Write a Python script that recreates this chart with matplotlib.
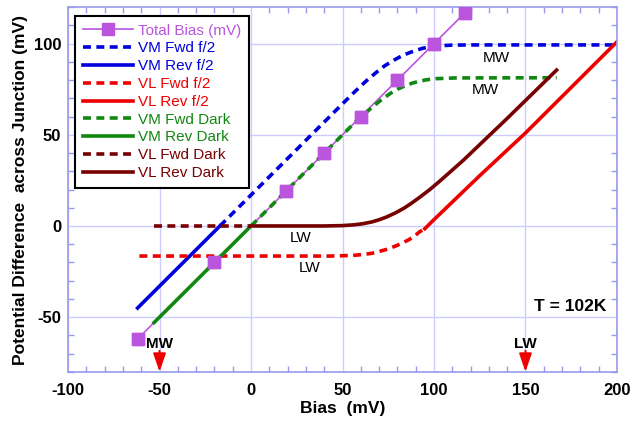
import matplotlib
matplotlib.use("Agg")
import matplotlib.pyplot as plt
from matplotlib.ticker import MultipleLocator

# ---- data ----
total_x = [-62, -20, 19, 40, 60, 80, 100, 117]
total_y = [-62, -20, 19, 40, 60, 80, 100, 117]

vm_fwd_f2_x = [-17, 0, 20, 40, 50, 55, 60, 64, 67, 70, 73, 77, 80, 83, 87, 90, 94, 98, 104, 110, 120, 200]
vm_fwd_f2_y = [0, 17, 37, 57, 67, 72, 76.8, 80.5, 83, 85.5, 87.8, 90.3, 92, 93.6, 95.2, 96.3, 97.5, 98.3, 98.9, 99.2, 99.3, 99.3]
vm_rev_f2_x = [-62, -17]
vm_rev_f2_y = [-45, 0]

vl_fwd_f2_x = [-61, 43, 55, 61, 66, 70, 75, 79, 83, 86.5, 90, 92, 95]
vl_fwd_f2_y = [-16.5, -16.5, -16.2, -15.7, -15, -14, -12.6, -11, -9.2, -7.4, -5, -3.3, -1.5]
vl_rev_f2_x = [95, 99, 125, 150, 200]
vl_rev_f2_y = [-1.5, 2.5, 27.6, 51, 101]

vm_fwd_dk_x = [0, 20, 40, 55, 58, 61, 64, 67, 70, 73, 76, 80, 84, 88, 92, 96, 101, 112, 167]
vm_fwd_dk_y = [0, 20, 40, 55, 57.9, 60.6, 63.2, 65.8, 68.2, 70.5, 72.6, 75.0, 76.8, 78.3, 79.4, 80.2, 80.8, 81.2, 81.3]
vm_rev_dk_x = [-53, 0]
vm_rev_dk_y = [-53, 0]

vl_fwd_dk_x = [-53, 0]
vl_fwd_dk_y = [0, 0]
vl_rev_dk_x = [0, 40, 50, 56, 61, 66, 70, 74, 79, 84, 88, 92, 97.5, 102, 107, 116, 140, 167]
vl_rev_dk_y = [0, 0, 0.2, 0.6, 1.2, 2.2, 3.4, 4.9, 7.2, 10.0, 12.7, 15.6, 19.8, 23.6, 28, 36, 59, 85.5]

arrow_x = [-50, 150]
arrow_labels = ["MW", "LW"]

# ---- style ----
C_MAG = "#bb55dd"
C_BLUE = "#0000dd"
C_RED = "#ee0000"
C_GREEN = "#118811"
C_DRED = "#770000"
C_AX = "#9999ee"
C_GRID = "#ccccff"

plt.rcParams['font.family'] = ['Liberation Sans', 'DejaVu Sans']
plt.rcParams['axes.unicode_minus'] = False

fig = plt.figure(figsize=(6.42, 4.23), dpi=100)
ax = fig.add_axes([0.106, 0.121, 0.855, 0.862])

lw = 2.6
dash = (0, (2.2, 1.5))
# Total bias: thin line below curves, markers on top
ax.plot(total_x, total_y, color=C_MAG, lw=1.2, marker='s', ms=8, mec=C_MAG, mfc=C_MAG,
        label="Total Bias (mV)", zorder=1.5)
ax.plot(total_x, total_y, ls='none', marker='s', ms=8, mec=C_MAG, mfc=C_MAG, zorder=5)
ax.plot(vm_fwd_f2_x, vm_fwd_f2_y, color=C_BLUE, lw=lw, ls=dash, label="VM Fwd f/2")
ax.plot(vm_rev_f2_x, vm_rev_f2_y, color=C_BLUE, lw=lw, label="VM Rev f/2")
ax.plot(vl_fwd_f2_x, vl_fwd_f2_y, color=C_RED, lw=lw, ls=dash, label="VL Fwd f/2")
ax.plot(vl_rev_f2_x, vl_rev_f2_y, color=C_RED, lw=lw, label="VL Rev f/2")
ax.plot(vm_fwd_dk_x, vm_fwd_dk_y, color=C_GREEN, lw=lw, ls=dash, label="VM Fwd Dark")
ax.plot(vm_rev_dk_x, vm_rev_dk_y, color=C_GREEN, lw=lw, label="VM Rev Dark")
ax.plot(vl_fwd_dk_x, vl_fwd_dk_y, color=C_DRED, lw=lw, ls=dash, label="VL Fwd Dark")
ax.plot(vl_rev_dk_x, vl_rev_dk_y, color=C_DRED, lw=lw, label="VL Rev Dark")

ax.set_xlim(-100, 200)
ax.set_ylim(-80, 120)
ax.xaxis.set_major_locator(MultipleLocator(50))
ax.yaxis.set_major_locator(MultipleLocator(50))
ax.xaxis.set_minor_locator(MultipleLocator(10))
ax.yaxis.set_minor_locator(MultipleLocator(10))
ax.grid(True, which='major', color=C_GRID, lw=1.0)
ax.set_axisbelow(True)
for s in ax.spines.values():
    s.set_color(C_AX)
    s.set_linewidth(1.2)
ax.tick_params(which='both', direction='in', top=True, right=True, color=C_AX)
ax.tick_params(which='major', length=0, labelsize=12)
ax.tick_params(axis='x', which='major', pad=8)
ax.tick_params(axis='y', which='major', pad=5)
ax.tick_params(which='minor', length=4, width=1)
for lab in ax.get_xticklabels() + ax.get_yticklabels():
    lab.set_fontweight('bold')

ax.set_xlabel("Bias  (mV)", fontsize=12.5, fontweight='bold', labelpad=2)
ax.set_ylabel("Potential Difference  across Junction (mV)", fontsize=12.5,
              fontweight='bold', labelpad=4)

# annotations
ax.text(134, 92, "MW", fontsize=11, ha='center', va='center')
ax.text(128, 74.5, "MW", fontsize=11, ha='center', va='center')
ax.text(27, -6.5, "LW", fontsize=11, ha='center', va='center')
ax.text(32, -23, "LW", fontsize=11, ha='center', va='center')
ax.text(194, -44, "T = 102K", fontsize=12.5, fontweight='bold', ha='right', va='center')

for xa, lab in zip(arrow_x, arrow_labels):
    ax.annotate("", xy=(xa, -80), xytext=(xa, -68.5),
                arrowprops=dict(arrowstyle="-|>,head_length=1.1,head_width=0.38",
                                mutation_scale=10, color=C_RED, lw=1.5,
                                shrinkA=0, shrinkB=0))
    ax.text(xa, -65, lab, fontsize=11, fontweight='bold', ha='center', va='center')

leg = ax.legend(loc='upper left', bbox_to_anchor=(0.013, 0.976), fontsize=11,
                frameon=True, fancybox=False, handlelength=3.3, handletextpad=0.3,
                labelspacing=0.25, borderpad=0.5, borderaxespad=0)
leg.get_frame().set_edgecolor('black')
leg.get_frame().set_linewidth(1.5)
leg.get_frame().set_alpha(1)
for t, l in zip(leg.get_texts(), leg.get_lines()):
    t.set_color(l.get_color())

fig.savefig("out.png", dpi=100)
